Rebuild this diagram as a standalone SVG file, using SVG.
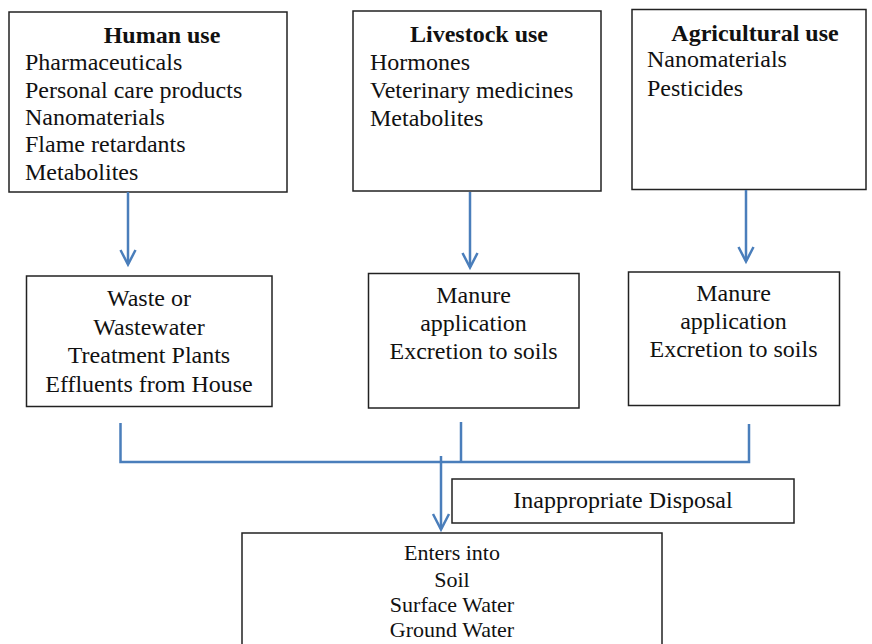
<svg xmlns="http://www.w3.org/2000/svg" width="872" height="644" viewBox="0 0 872 644">
<defs>
<style>
.box{fill:#fff;stroke:#222;stroke-width:1.5}
.t{font-family:"Liberation Serif","Times New Roman",serif;font-size:24px;fill:#111}
.b{font-weight:bold}
.c{text-anchor:middle}
.s{font-size:22px}
.con{fill:none;stroke:#4a7ebb;stroke-width:2.5}
.arr{fill:none;stroke:#4a7ebb;stroke-width:2.5;stroke-linejoin:miter}
</style>
</defs>
<rect width="872" height="644" fill="#fff"/>
<g id="human">
<rect class="box" x="9" y="12" width="278" height="180"/>
<text class="t b c" x="162" y="43">Human use</text>
<text class="t" x="25" y="70">Pharmaceuticals</text>
<text class="t" x="25" y="97.5">Personal care products</text>
<text class="t" x="25" y="124.5">Nanomaterials</text>
<text class="t" x="25" y="152">Flame retardants</text>
<text class="t" x="25" y="180">Metabolites</text>
</g>
<g id="livestock">
<rect class="box" x="353" y="11" width="248" height="180"/>
<text class="t b c" x="479" y="41.5">Livestock use</text>
<text class="t" x="370" y="70">Hormones</text>
<text class="t" x="370" y="98">Veterinary medicines</text>
<text class="t" x="370" y="126">Metabolites</text>
</g>
<g id="agricultural">
<rect class="box" x="632" y="9.5" width="234" height="180"/>
<text class="t b c" x="755" y="41">Agricultural use</text>
<text class="t" x="647" y="67">Nanomaterials</text>
<text class="t" x="647" y="96">Pesticides</text>
</g>
<g id="wastewater">
<rect class="box" x="26.5" y="276" width="245.5" height="130.5"/>
<text class="t c" x="149" y="306">Waste or</text>
<text class="t c" x="149" y="334.5">Wastewater</text>
<text class="t c" x="149" y="363">Treatment Plants</text>
<text class="t c" x="149" y="391.5">Effluents from House</text>
</g>
<g id="manure1">
<rect class="box" x="368.5" y="273.5" width="210.5" height="134.5"/>
<text class="t c" x="473.5" y="303">Manure</text>
<text class="t c" x="473.5" y="331">application</text>
<text class="t c" x="473.5" y="359">Excretion to soils</text>
</g>
<g id="manure2">
<rect class="box" x="628.5" y="272" width="211" height="133.5"/>
<text class="t c" x="733.5" y="301">Manure</text>
<text class="t c" x="733.5" y="329">application</text>
<text class="t c" x="733.5" y="357">Excretion to soils</text>
</g>
<g id="disposal">
<rect class="box" x="452" y="479" width="342" height="44"/>
<text class="t c" x="623" y="508">Inappropriate Disposal</text>
</g>
<g id="enters">
<rect class="box" x="242" y="533" width="420" height="120"/>
<text class="t s c" x="452" y="560">Enters into</text>
<text class="t s c" x="452" y="586.5">Soil</text>
<text class="t s c" x="452" y="611.5">Surface Water</text>
<text class="t s c" x="452" y="636.5">Ground Water</text>
</g>
<g id="connectors">
<line class="con" x1="128" y1="192" x2="128" y2="264"/>
<polyline class="arr" points="120.5,250 128,264.5 135.5,250"/>
<line class="con" x1="470" y1="192" x2="470" y2="267"/>
<polyline class="arr" points="462.5,253 470,267.5 477.5,253"/>
<line class="con" x1="746" y1="190" x2="746" y2="261"/>
<polyline class="arr" points="738.5,247 746,261.5 753.5,247"/>
<polyline class="con" points="120.5,423 120.5,462 749,462 749,424"/>
<line class="con" x1="461" y1="422" x2="461" y2="462"/>
<line class="con" x1="441" y1="456" x2="441" y2="529"/>
<polyline class="arr" points="433,514 441,529.5 449,514"/>
</g>
</svg>
